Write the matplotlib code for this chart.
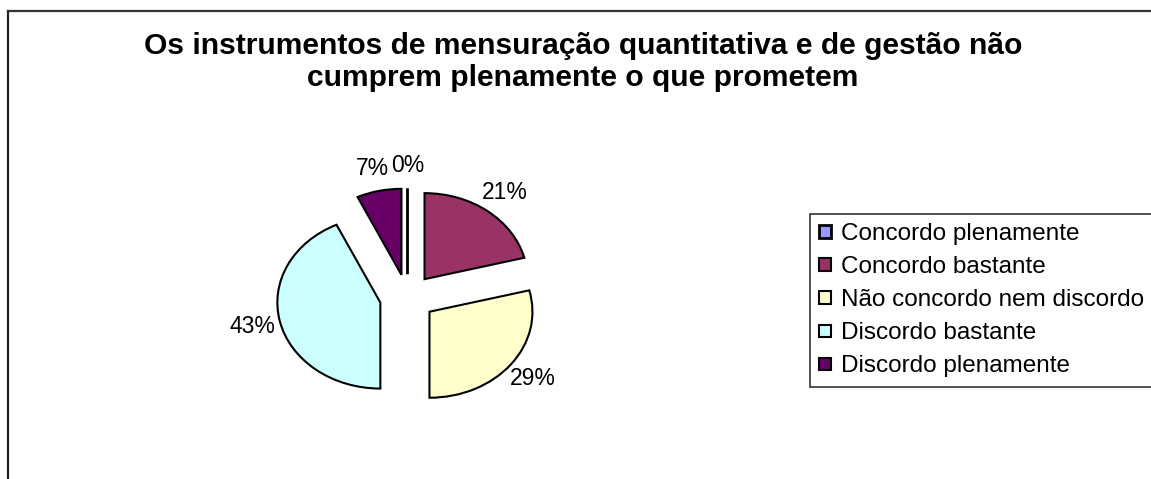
import matplotlib.pyplot as plt
from matplotlib.lines import Line2D

plt.rcParams['font.family'] = ['Liberation Sans', 'DejaVu Sans']

# dados do grafico
categorias = ['Concordo plenamente', 'Concordo bastante', 'Não concordo nem discordo',
              'Discordo bastante', 'Discordo plenamente']
valores = [0, 21, 29, 43, 7]
cores = ['#9999FF', '#993366', '#FFFFCC', '#CCFFFF', '#660066']
titulo = 'Os instrumentos de mensuração quantitativa e de gestão não\ncumprem plenamente o que prometem'

W, H = 1151, 479
fig = plt.figure(figsize=(W / 100, H / 100), dpi=100)

# moldura do grafico (lados direito e inferior ficam fora da imagem)
fig.add_artist(Line2D([8 / W, 8 / W], [0, 1 - 11 / H], color='#222222', lw=1.6, transform=fig.transFigure))
fig.add_artist(Line2D([8 / W, 1], [1 - 11 / H, 1 - 11 / H], color='#333333', lw=1.6, transform=fig.transFigure))

fig.text(583 / W, 1 - 62 / H, titulo, ha='center', va='center', fontsize=21.6,
         fontweight='bold', linespacing=1.17)

# pizza eliptica: raio horizontal 103 px, vertical 86 px
cx, cy = 407.5, 297.5
rx, ry = 103, 86
ax = fig.add_axes([(cx - 2 * rx) / W, 1 - (cy + 2 * ry) / H, 4 * rx / W, 4 * ry / H])
wedges, textos, pcts = ax.pie(valores, colors=cores, startangle=90, counterclock=False,
                              explode=[0.27] * len(valores), autopct='%.0f%%',
                              pctdistance=1.27, labels=None,
                              wedgeprops=dict(edgecolor='black', linewidth=1.5),
                              textprops=dict(fontsize=16.5, color='black'))
ax.set_xlim(-2, 2)
ax.set_ylim(-2, 2)
ax.set_aspect('auto')
ax.axis('off')
wedges[0].set_linewidth(2)

leg = fig.legend(wedges, categorias, loc='upper left',
                 bbox_to_anchor=(810 / W, 1 - 214 / H), bbox_transform=fig.transFigure,
                 borderaxespad=0, fontsize=17.5, frameon=True, fancybox=False,
                 edgecolor='black', handlelength=0.49, handleheight=0.41,
                 handletextpad=0.41, labelspacing=0.455, borderpad=0.38)
leg.get_frame().set_linewidth(1.2)

fig.savefig('out.png', dpi=100)
